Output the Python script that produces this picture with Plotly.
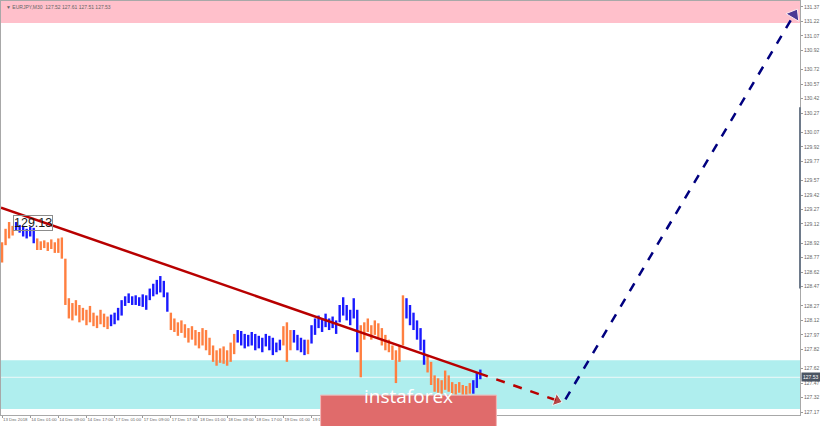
"""EURJPY intraday bars with wave colouring, trendline and forecast arrows."""

import plotly.graph_objects as go

# hourly bar highs / lows (bar 0 = 13 Dec 17:00)
highs = [
    128.93, 129.07, 129.14, 129.10, 129.14, 129.11, 129.10, 129.07, 129.09, 129.08,
    128.97, 128.94, 128.95, 128.93, 128.96, 128.93, 128.97, 128.98, 128.76, 128.35,
    128.30, 128.33, 128.28, 128.25, 128.23, 128.27, 128.20, 128.17, 128.23, 128.19,
    128.16, 128.18, 128.20, 128.25, 128.33, 128.37, 128.40, 128.37, 128.38, 128.36,
    128.39, 128.38, 128.45, 128.50, 128.54, 128.58, 128.53, 128.41, 128.20, 128.14,
    128.10, 128.12, 128.08, 128.04, 128.06, 128.02, 128.00, 128.04, 128.02, 127.94,
    127.86, 127.81, 127.83, 127.85, 127.81, 127.89, 127.98, 128.02, 128.01, 127.98,
    127.97, 128.00, 127.98, 127.96, 127.94, 127.98, 127.96, 127.94, 127.89, 127.92,
    128.06, 128.10, 128.02, 128.02, 127.97, 127.94, 127.92, 127.92, 128.07, 128.14,
    128.17, 128.14, 128.19, 128.14, 128.16, 128.12, 128.28, 128.36, 128.28, 128.23,
    128.35, 128.23, 128.07, 128.10, 128.14, 128.07, 128.12, 128.09, 128.04, 127.97,
    127.92, 127.86, 127.81, 127.86, 128.38, 128.35, 128.28, 128.20, 128.12, 128.04,
    127.92, 127.76, 127.69, 127.55, 127.52, 127.50, 127.60, 127.55, 127.48, 127.46,
    127.48, 127.45, 127.44, 127.47, 127.50, 127.58, 127.61,
]
lows = [
    128.72, 128.90, 128.97, 129.00, 129.05, 129.03, 128.99, 128.97, 128.99, 128.92,
    128.85, 128.85, 128.87, 128.84, 128.86, 128.82, 128.82, 128.76, 128.28, 128.14,
    128.12, 128.17, 128.10, 128.12, 128.07, 128.10, 128.06, 128.04, 128.08, 128.05,
    128.03, 128.06, 128.08, 128.12, 128.17, 128.27, 128.30, 128.28, 128.28, 128.27,
    128.26, 128.23, 128.33, 128.37, 128.39, 128.41, 128.36, 128.21, 128.02, 128.00,
    127.96, 127.99, 127.94, 127.89, 127.92, 127.86, 127.83, 127.86, 127.81, 127.76,
    127.69, 127.65, 127.68, 127.67, 127.65, 127.69, 127.77, 127.89, 127.86, 127.83,
    127.85, 127.86, 127.81, 127.83, 127.79, 127.85, 127.81, 127.76, 127.79, 127.81,
    127.86, 127.69, 127.81, 127.89, 127.81, 127.79, 127.76, 127.77, 127.88, 127.97,
    128.04, 128.00, 128.05, 128.02, 128.04, 127.98, 128.10, 128.17, 128.12, 128.07,
    128.14, 127.79, 127.53, 127.92, 128.00, 127.92, 127.97, 127.94, 127.86, 127.81,
    127.79, 127.71, 127.47, 127.69, 127.86, 128.14, 128.07, 128.02, 127.92, 127.81,
    127.66, 127.58, 127.45, 127.38, 127.37, 127.36, 127.40, 127.38, 127.36, 127.35,
    127.37, 127.35, 127.35, 127.36, 127.36, 127.42, 127.51,
]
# wave colouring: (colour key, number of bars)
wave_runs = [
    ("o", 4), ("b", 6), ("o", 21), ("b", 17), ("o", 19), ("b", 13), ("o", 3),
    ("b", 4), ("o", 1), ("b", 14), ("o", 13), ("b", 6), ("o", 13), ("b", 3),
]

tick_bars = list(range(0, 129, 8))
tick_text = [
    "13 Dec 2018", "14 Dec 01:00", "14 Dec 09:00", "14 Dec 17:00", "17 Dec 01:00",
    "17 Dec 09:00", "17 Dec 17:00", "18 Dec 01:00", "18 Dec 09:00", "18 Dec 17:00",
    "19 Dec 01:00", "19 Dec 09:00", "19 Dec 17:00", "20 Dec 01:00", "20 Dec 09:00",
    "20 Dec 17:00", "21 Dec 01:00",
]
price_ticks = [
    131.37, 131.22, 131.07, 130.92, 130.72, 130.57, 130.42, 130.27, 130.07, 129.92,
    129.77, 129.57, 129.42, 129.27, 129.12, 128.92, 128.77, 128.62, 128.47, 128.27,
    128.12, 127.97, 127.82, 127.62, 127.47, 127.32, 127.17,
]

# trendline and forecast
trend_x = [-0.3, 135.7]
trend_y = [129.29, 127.57]
trend_ext_x = [135.7, 157.8]
trend_ext_y = [127.57, 127.29]
target_x = [160.2, 225.2]
target_y = [127.30, 131.29]

sell_zone = (131.205, 131.45)
buy_zone = (127.201, 127.708)
last_price = 127.53
swing_label = 129.13

COLOURS = {"o": "#ff7f40", "b": "#1a1aff"}
RED = "#b80000"
NAVY = "#00007f"

fig = go.Figure()

# bars as vertical high-low sticks, one trace per wave colour
colour_of_bar = []
for key, n in wave_runs:
    colour_of_bar += [key] * n
for key in ("o", "b"):
    xs, ys = [], []
    for i, c in enumerate(colour_of_bar):
        if c != key:
            continue
        xs += [i, i, None]
        ys += [lows[i], highs[i], None]
    fig.add_trace(go.Scatter(x=xs, y=ys, mode="lines",
                             line=dict(color=COLOURS[key], width=2.4),
                             hoverinfo="skip", showlegend=False))

fig.add_trace(go.Scatter(x=trend_x, y=trend_y, mode="lines",
                         line=dict(color=RED, width=2.5), showlegend=False))
fig.add_trace(go.Scatter(x=trend_ext_x, y=trend_ext_y, mode="lines+markers",
                         line=dict(color=RED, width=2.5, dash="dash"),
                         marker=dict(symbol="triangle-up", size=[0, 11], color=RED,
                                     angleref="previous"),
                         showlegend=False))
fig.add_trace(go.Scatter(x=target_x, y=target_y, mode="lines+markers",
                         line=dict(color=NAVY, width=2.5, dash="dash"),
                         marker=dict(symbol="triangle-up", size=[0, 13], color=NAVY,
                                     angleref="previous"),
                         showlegend=False))

shapes = [
    dict(type="rect", xref="paper", x0=0, x1=1, y0=sell_zone[0], y1=sell_zone[1],
         fillcolor="#ffc0cb", line=dict(width=0), layer="below"),
    dict(type="rect", xref="paper", x0=0, x1=1, y0=buy_zone[0], y1=buy_zone[1],
         fillcolor="#afeeee", line=dict(width=0), layer="below"),
    dict(type="line", xref="paper", x0=0, x1=1, y0=last_price, y1=last_price,
         line=dict(color="#eef8f8", width=1), layer="below"),
    dict(type="line", xref="paper", x0=1, x1=1, y0=128.45, y1=130.33,
         line=dict(color="#6e7a8a", width=2)),
    # logo block
    dict(type="rect", xref="paper", yref="paper", x0=0.4, x1=0.62, y0=-0.03, y1=0.048,
         fillcolor="#e06b6b", line=dict(color="#f2b5b5", width=1), layer="above"),
]

annotations = [
    dict(xref="paper", yref="paper", x=0.004, y=0.997, xanchor="left", yanchor="top",
         text="▼ EURJPY,M30  127.52 127.61 127.51 127.53", showarrow=False,
         font=dict(size=5, color="#666666", family="Liberation Sans")),
    dict(x=8.7, y=swing_label, text="129.13", showarrow=False,
         font=dict(size=12.5, color="#1a1a1a", family="Liberation Sans"),
         bordercolor="#8c8c8c", borderwidth=1, borderpad=0),
    dict(xref="paper", x=1.0, y=last_price, xanchor="left", text="127.53",
         showarrow=False, bgcolor="#4b5563", borderpad=1, xshift=1,
         font=dict(size=5, color="white", family="Liberation Sans")),
    dict(xref="paper", yref="paper", x=0.51, y=0.009, text="instaforex",
         showarrow=False, font=dict(size=19, color="white", family="Open Sans")),
]

fig.update_layout(
    width=820, height=426,
    margin=dict(l=0, r=18, t=0, b=11),
    paper_bgcolor="white", plot_bgcolor="white",
    shapes=shapes, annotations=annotations,
    xaxis=dict(range=[-0.3, 226.9], tickvals=tick_bars, ticktext=tick_text,
               ticks="outside", ticklen=2, tickcolor="#999999", tickangle=0,
               ticklabelposition="outside right",
               tickfont=dict(size=4.3, color="#666666", family="Liberation Sans"),
               showgrid=False, zeroline=False, showline=True, mirror=True,
               linecolor="#a8a8a8", linewidth=1),
    yaxis=dict(range=[127.139, 131.432], side="right", tickvals=price_ticks,
               ticktext=[f"{v:.2f}" for v in price_ticks],
               ticks="outside", ticklen=2, tickcolor="#999999",
               tickfont=dict(size=5, color="#666666", family="Liberation Sans"),
               showgrid=False, zeroline=False, showline=True, mirror=True,
               linecolor="#a8a8a8", linewidth=1),
)

fig.write_html("out.html", config={"displayModeBar": False},
               post_script="document.body.style.margin='0';")
